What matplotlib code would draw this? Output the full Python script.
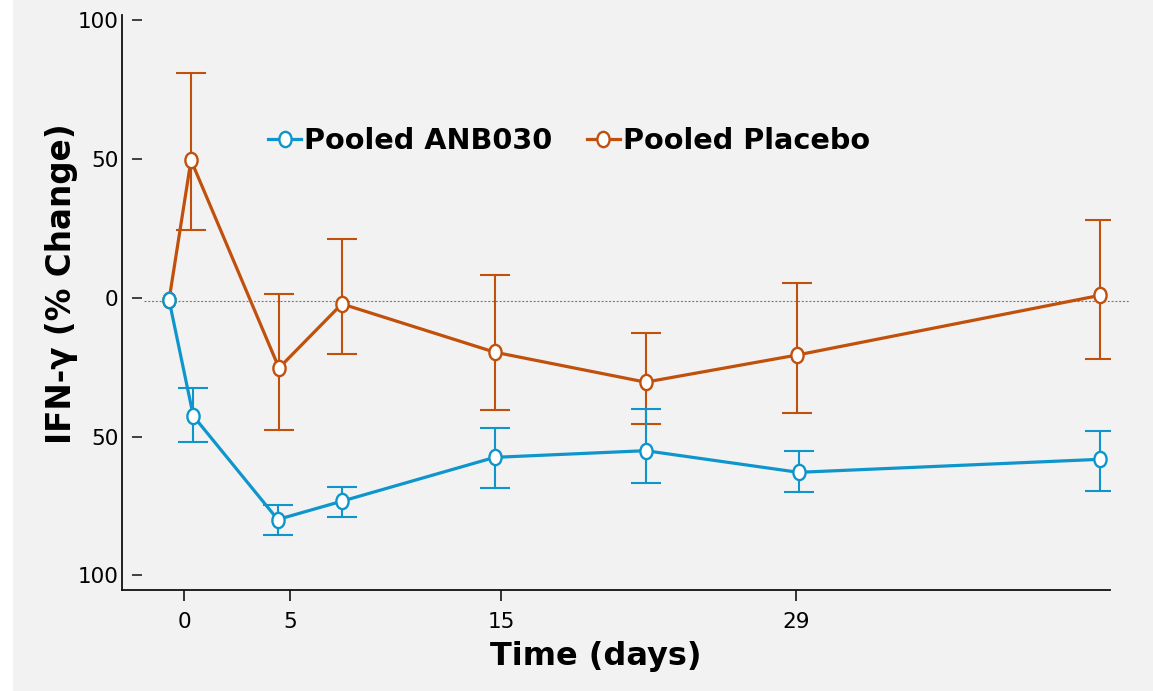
import numpy as np
import matplotlib
matplotlib.use('Agg')
import matplotlib.pyplot as plt
from matplotlib.lines import Line2D
from matplotlib.patches import Rectangle
from matplotlib.path import Path
from matplotlib.transforms import Affine2D

# Data (days, % change)
anb_days = [-0.73, 0.42, 4.42, 7.46, 14.7, 21.85, 29.1, 43.4]
anb_mean = [-0.8, -42.6, -79.9, -73.3, -57.5, -55.1, -62.9, -58.2]
anb_hi = [np.nan, -32.5, -74.7, -68.2, -46.8, -40.0, -55.1, -48.0]
anb_lo = [np.nan, -52.0, -85.5, -79.0, -68.5, -66.7, -70.1, -69.7]

pbo_days = [-0.73, 0.31, 4.48, 7.46, 14.7, 21.85, 29.05, 43.4]
pbo_mean = [-0.8, 49.6, -25.3, -2.2, -19.6, -30.4, -20.6, 0.9]
pbo_hi = [np.nan, 81.1, 1.5, 21.2, 8.2, -12.7, 5.2, 28.1]
pbo_lo = [np.nan, 24.4, -47.6, -20.3, -40.5, -45.4, -41.4, -22.0]

x_ticks = [0, 5, 15, 29]
y_ticks = [-100, -50, 0, 50, 100]
y_tick_labels = ['100', '50', '0', '50', '100']

blue = '#0e96cc'
orange = '#c0500c'
bg = '#f2f2f2'

# slightly tall ellipse marker
ellipse = Path.unit_circle().transformed(Affine2D().scale(0.8, 1.0))

fig = plt.figure(figsize=(11.53, 6.91), dpi=100, facecolor='white')
fig.patches.append(Rectangle((13 / 1153, 0), 1, 1, transform=fig.transFigure,
                             facecolor=bg, edgecolor='none', zorder=-10))
ax = fig.add_axes([122 / 1153, 1 - 590 / 691, (1110 - 122) / 1153, (590 - 15) / 691])
ax.set_facecolor(bg)

# zero reference line
ax.plot([-1.92, 44.8], [-1.2, -1.2], color='#777777', lw=0.8,
        linestyle=(0, (1.8, 1.6)), clip_on=False, zorder=1)

def draw_series(days, mean, hi, lo, color):
    days = np.array(days)
    mean = np.array(mean)
    hi = np.array(hi)
    lo = np.array(lo)
    err = np.vstack([mean - lo, hi - mean])
    ax.errorbar(days, mean, yerr=err, fmt='none', ecolor=color, elinewidth=1.5,
                capsize=10.8, capthick=1.5, zorder=2)
    line, = ax.plot(days, mean, color=color, lw=2.3, marker=ellipse,
                    markersize=11, markerfacecolor='white', markeredgecolor=color,
                    markeredgewidth=1.7, zorder=3)
    return line

draw_series(pbo_days, pbo_mean, pbo_hi, pbo_lo, orange)
draw_series(anb_days, anb_mean, anb_hi, anb_lo, blue)

ax.set_xlim(-2.96, 43.86)
ax.set_ylim(-105.3, 101.9)

for side in ['top', 'right']:
    ax.spines[side].set_visible(False)
for side in ['left', 'bottom']:
    ax.spines[side].set_linewidth(1.3)
    ax.spines[side].set_color('#111111')

ax.set_xticks(x_ticks)
ax.set_xticklabels([str(t) for t in x_ticks])
ax.tick_params(axis='x', direction='out', length=8, width=1.4, color='#333333',
               pad=8, labelsize=15.5)
ax.set_yticks(y_ticks)
ax.set_yticklabels(y_tick_labels)
ax.tick_params(axis='y', length=0, pad=2.5, labelsize=15.5)

# short detached tick dashes inside the axis
ax.hlines(y_ticks, 0.0098, 0.0199, transform=ax.get_yaxis_transform(),
          color='#222222', lw=1.2, clip_on=False)

ax.set_xlabel('Time (days)', fontsize=23, fontweight='bold')
ax.xaxis.set_label_coords(0.48, -67 / 575)
ax.xaxis.label.set_verticalalignment('center')
ax.set_ylabel('IFN-γ (% Change)', fontsize=23.5, fontweight='bold')
ax.yaxis.set_label_coords(-60 / 988, 0.532)
ax.yaxis.label.set_verticalalignment('center')

handles = [
    Line2D([], [], color=blue, lw=2.3, marker=ellipse, markersize=11,
           markerfacecolor='white', markeredgecolor=blue, markeredgewidth=1.7),
    Line2D([], [], color=orange, lw=2.3, marker=ellipse, markersize=11,
           markerfacecolor='white', markeredgecolor=orange, markeredgewidth=1.7),
]
fig.legend(handles, ['Pooled ANB030', 'Pooled Placebo'], loc='center left',
           bbox_to_anchor=(268 / 1153, 1 - 141 / 691), ncol=2, frameon=False,
           prop={'size': 20.7, 'weight': 'bold'}, handlelength=1.15,
           handletextpad=0.1, columnspacing=1.2, borderpad=0, borderaxespad=0)

fig.savefig('out.png', dpi=100, facecolor=fig.get_facecolor())
